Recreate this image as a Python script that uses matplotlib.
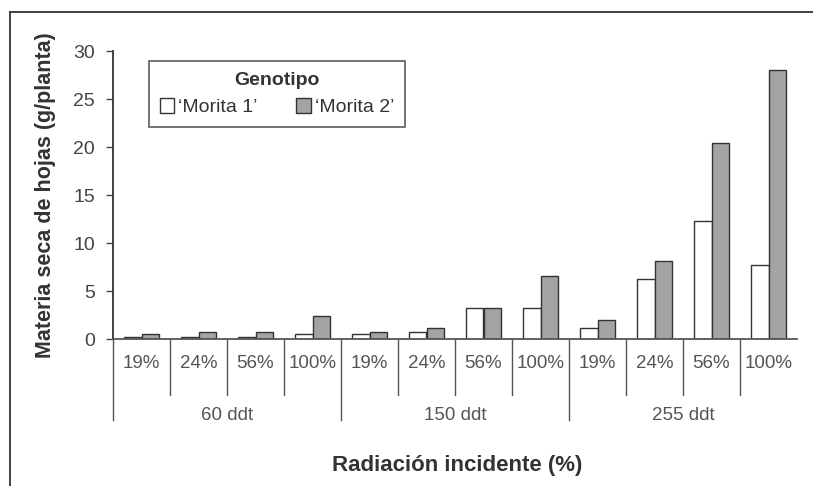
import numpy as np
import matplotlib.pyplot as plt
from matplotlib.lines import Line2D
from matplotlib.patches import Patch

plt.rcParams['font.family'] = ['Liberation Sans', 'DejaVu Sans']

# ---- data ----
radiacion = ['19%', '24%', '56%', '100%']
epocas = ['60 ddt', '150 ddt', '255 ddt']
morita1 = [0.2, 0.2, 0.2, 0.5,
           0.5, 0.7, 3.2, 3.2,
           1.1, 6.2, 12.3, 7.7]
morita2 = [0.5, 0.7, 0.7, 2.4,
           0.7, 1.1, 3.2, 6.6,
           2.0, 8.1, 20.4, 28.0]

W, H = 813, 486
fig = plt.figure(figsize=(W / 100, H / 100), dpi=100)
ax = fig.add_axes([113 / W, 1 - 339 / H, (797 - 113) / W, (339 - 51) / H])

n = len(morita1)
x = np.arange(n)
bw = 0.3
ax.bar(x - bw / 2, morita1, bw, color='white', edgecolor='#333333', linewidth=1.0)
ax.bar(x + bw / 2, morita2, bw, color='#a3a3a6', edgecolor='#333333', linewidth=1.0)

ax.set_xlim(-0.5, n - 0.5)
ax.set_ylim(0, 30)
ax.set_yticks([0, 5, 10, 15, 20, 25, 30])
ax.tick_params(axis='y', direction='out', length=5, width=1, colors='#444444',
               labelsize=14, labelcolor='#444444', pad=8)
ax.set_xticks([])
for s in ['top', 'right']:
    ax.spines[s].set_visible(False)
ax.spines['left'].set_color('#333333')
ax.spines['bottom'].set_color('#555555')
ax.spines['left'].set_linewidth(1.3)
ax.spines['bottom'].set_linewidth(1.3)

# category labels and separators below axis
tr = ax.get_xaxis_transform()
for i in range(n):
    ax.text(i, -25 / 288, radiacion[i % 4], transform=tr, ha='center', va='center',
            fontsize=13.5, color='#555555')
for i in range(n):
    left = i - 0.5
    y_end = -81 / 288 if i % 4 == 0 else -56 / 288
    ax.add_line(Line2D([left, left], [0, y_end], transform=tr, color='#555555',
                       linewidth=1.0, clip_on=False))
for g, lab in enumerate(epocas):
    ax.text(g * 4 + 1.5, -77 / 288, lab, transform=tr, ha='center', va='center',
            fontsize=13.5, color='#555555')

fig.text(457 / W, 1 - 465 / H, 'Radiación incidente (%)', ha='center', va='center',
         fontsize=16, fontweight='bold', color='#333333')
fig.text(45 / W, 1 - 195 / H, 'Materia seca de hojas (g/planta)', ha='center',
         va='center', rotation=90, fontsize=15.5, fontweight='bold', color='#333333')

handles = [Patch(facecolor='white', edgecolor='#333333', label="\u2018Morita 1\u2019"),
           Patch(facecolor='#a3a3a6', edgecolor='#333333', label="\u2018Morita 2\u2019")]
leg = ax.legend(handles=handles, title='Genotipo', ncol=2, loc='upper left',
                bbox_to_anchor=((149 - 113) / 684, 1 - (61 - 51) / 288),
                frameon=True, fancybox=False, fontsize=14,
                title_fontproperties={'weight': 'bold', 'size': 14},
                handlelength=0.75, handleheight=0.75, handletextpad=0.2,
                columnspacing=2.0, borderpad=0.55, borderaxespad=0)
leg.get_frame().set_edgecolor('#333333')
leg.get_frame().set_linewidth(1.2)
for t in leg.get_texts():
    t.set_color('#333333')
leg.get_title().set_color('#333333')

# outer frame (left and top edges visible)
fig.add_artist(Line2D([10 / W, 10 / W], [0, 1 - 12 / H], transform=fig.transFigure,
                      color='#333333', linewidth=1.3))
fig.add_artist(Line2D([10 / W, 1], [1 - 12 / H, 1 - 12 / H], transform=fig.transFigure,
                      color='#333333', linewidth=1.3))

fig.savefig('out.png', dpi=100)
